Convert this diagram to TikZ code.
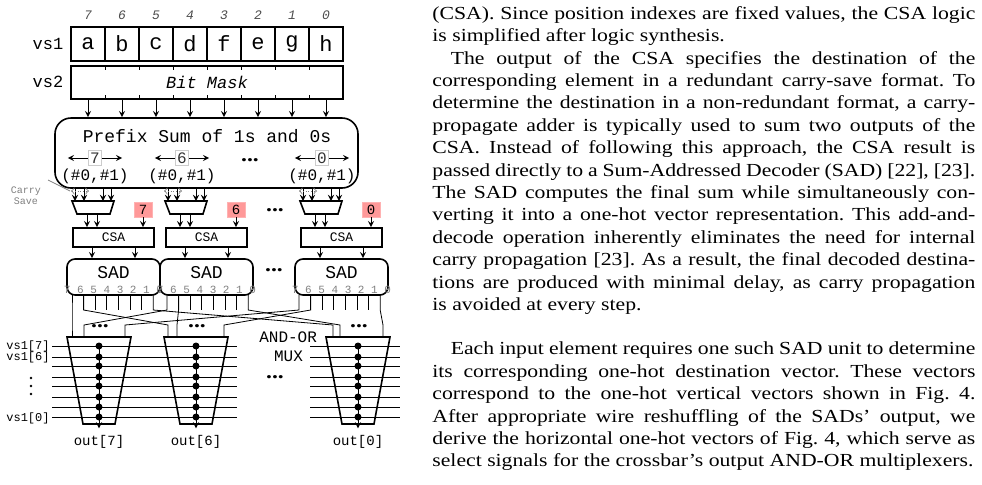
\documentclass[tikz,border=0pt]{standalone}
\usepackage{fontspec}
\setmainfont{Liberation Serif}[FakeStretch=1.18]
\setmonofont{Liberation Mono}
\usetikzlibrary{calc, positioning}

\tikzset{
  cell/.style={draw, thick, minimum width=17pt, minimum height=17pt, inner sep=0pt, font=\ttfamily\fontsize{11}{11}\selectfont},
  idx/.style={font=\ttfamily\itshape\fontsize{6.5}{6.5}\selectfont},
  lbl/.style={font=\ttfamily\fontsize{8.5}{8.5}\selectfont},
  small/.style={font=\ttfamily\fontsize{6}{6}\selectfont},
  posbox/.style={draw=gray!40, inner sep=1pt, font=\ttfamily\fontsize{8}{8}\selectfont, text=black!80},
  csabox/.style={draw, thick, minimum width=40.5pt, minimum height=9.5pt, inner sep=0pt, font=\ttfamily\fontsize{6.5}{6.5}\selectfont},
  redbox/.style={draw=red!30, fill=red!40, minimum width=9pt, minimum height=7.5pt, inner sep=0pt, font=\ttfamily\fontsize{7}{7}\selectfont},
  sadbox/.style={draw, thick, rounded corners=4pt, minimum width=46.5pt, minimum height=18pt, inner sep=0pt},
  seldot/.style={circle, fill, inner sep=0pt, minimum size=3.5pt},
  >=stealth
}

\begin{document}
\begin{tikzpicture}[x=0.5pt, y=-0.5pt]
        \useasboundingbox (0,0) rectangle (982,484);

        % vs1
        \node[lbl] (vsone) at (48,44) {vs1};
        \foreach \c [count=\i from 0] in {a,b,c,d,f,e,g,h} {
            \pgfmathtruncatemacro\n{7-\i}
            \node[cell] (v\i) at (88+34*\i,44) {\c};
            \node[idx, text=black!70] at (88+34*\i,15) {\n};
        }

        % vs2
        \node[lbl] (vstwo) at (48,82) {vs2};
        \node[draw, thick, minimum width=136pt, minimum height=16.5pt, inner sep=0pt, font=\ttfamily\itshape\fontsize{8.5}{8.5}\selectfont] (mask) at (207,82.5) {Bit Mask};
        \foreach \i in {1,...,7} {
            \draw (71+34*\i,66) -- ++(0,4);
            \draw (71+34*\i,99) -- ++(0,-4);
        }

        % prefix sum
        \node[draw, thick, rounded corners=8pt, minimum width=151.5pt, minimum height=35pt] (prefix) at (206.5,153) {};
        \node[font=\ttfamily\fontsize{9}{9}\selectfont] (title) at (207,136) {Prefix Sum of 1s and 0s};
        \foreach \i in {0,...,7}
            \draw[->] (mask.south -| v\i) -- (prefix.north -| v\i);

        \foreach \cx/\n in {95/7, 182/6, 322/0} {
            \node[posbox] (n\n) at (\cx,158) {\n};
            \draw[->] (n\n.west) -- ++(-20,0);
            \draw[->] (n\n.east) -- ++(20,0);
            \node[font=\ttfamily\fontsize{8}{8}\selectfont] (t\n) at (\cx,176) {(\#0,\#1)};
        }
        \node (pdots) at (250,160) {\textbf{...}};

        % carry save
        \node[font=\ttfamily\fontsize{5}{5.5}\selectfont, text=gray, align=center] (cs) at (26,196) {Carry\\Save};
        \coordinate (csend) at (70,191);
        \draw[gray] (cs.north east) -- (csend);

        % adders, csa, sad
        \foreach \t/\n/\k in {93/7/1, 186/6/2, 321/0/3} {
            \coordinate (tr\k-n) at (\t,201);
            \coordinate (tr\k-s) at (\t,214);
            \draw[thick] (\t-21,201) -- (\t+21,201) -- (\t+17,214) -- (\t-16,214) -- cycle;
            \node[redbox] (r\k) at (\t+50,209.5) {\n};
            \node[csabox] (csa\k) at (\t+20.5,237.5) {CSA};
            \node[sadbox] (sad\k) at (\t+20.5,277) {};
            \node[font=\ttfamily\fontsize{9}{9}\selectfont] at (\t+20.5,273) {SAD};
            \node[font=\ttfamily\fontsize{5.5}{5.5}\selectfont, text=gray] at (\t+20.5,290) {7 6 5 4 3 2 1 0};
            \foreach \dx in {-18,-9,10,18} {
                \coordinate (a) at ($(tr\k-n)+(\dx,0)$);
                \draw[->] (prefix.south -| a) -- (a);
            }
            \draw[gray, densely dotted, <->, >=to] ($(tr\k-n)+(-22,-10)$) -- ($(tr\k-n)+(-4,-10)$);
            \foreach \dx in {-6,4} {
                \coordinate (b) at ($(tr\k-s)+(\dx,0)$);
                \draw[->] (b) -- (csa\k.north -| b);
            }
            \draw[->] (r\k.south) -- (csa\k.north -| r\k);
            \foreach \dx in {-21.5,21.5} {
                \coordinate (c) at ($(csa\k.south)+(\dx,0)$);
                \draw[->] (c) -- (sad\k.north -| c);
            }
        }
        \node (adots) at (275,210) {\textbf{...}};
        \node (sdots) at (274,270) {\textbf{...}};

        % pins of the sads
        \foreach \left/\k in {67/1, 162/2, 294/3}
            \foreach \j in {0,...,7}
                \coordinate (p\k\j) at (\left+5+11.6*\j,295);
        \foreach \k in {1,2,3}
            \foreach \j in {2,...,6}
                \draw (p\k\j) -- ++(0,15);

        % muxes
        \foreach \mx/\n/\m in {99/7/1, 196/6/2, 358/0/3} {
            \coordinate (mux\m-n) at (\mx,337);
            \coordinate (mux\m-s) at (\mx,424);
            \draw[thick] (\mx-32,337) -- (\mx+32,337) -- (\mx+16,424) -- (\mx-16,424) -- cycle;
            \node[font=\ttfamily\fontsize{7}{7}\selectfont] (out\m) at (\mx,442) {out[\n]};
            \draw ($(mux\m-n)+(0,8)$) -- (mux\m-s);
            \draw[->] (mux\m-s) -- (out\m.north);
            \node (mdots\m) at (\mx+1,326) {\textbf{...}};
        }

        % wiring
        \foreach \k/\j/\m/\tx in {1/0/1/72, 2/0/1/84, 3/0/1/125,
                                  1/1/2/168, 2/1/2/177, 3/1/2/224,
                                  1/7/3/333, 2/7/3/340, 3/7/3/383} {
            \coordinate (q) at (\tx,337);
            \draw (p\k\j) -- ++(0,15) -- ($(q)+(0,-12)$) -- (q);
        }

        % select lines
        \foreach \y in {346,357,366,377,386,397,407,417} {
            \coordinate (l) at (52,\y);
            \coordinate (r) at (237,\y);
            \draw (l) -- (r);
            \coordinate (l) at (310,\y);
            \coordinate (r) at (400,\y);
            \draw (l) -- (r);
            \foreach \m in {1,2,3}
                \node[seldot] at (mux\m-n |- l) {};
        }

        % labels
        \node[small, anchor=east, inner sep=1pt] (l7) at (52,346) {vs1[7]};
        \node[small, anchor=east, inner sep=1pt] (l6) at (52,357) {vs1[6]};
        \node[small, anchor=east, inner sep=1pt] (l0) at (52,418) {vs1[0]};
        \foreach \y in {378,386,394}
            \fill (31,\y) circle (1.4);
        \node[font=\ttfamily\fontsize{8}{8}\selectfont, anchor=east] (andor) at (324,337) {AND-OR};
        \node[font=\ttfamily\fontsize{8}{8}\selectfont, anchor=east] (muxl) at (310,356) {MUX};
        \node (xdots) at (275,377) {\textbf{...}};

        % text column
        \node[anchor=north west, inner sep=0pt, text width=271.5pt, align=justify, font=\fontsize{9.2}{11.2}\selectfont] (col) at (432,6) {\frenchspacing%
        (CSA). Since position indexes are fixed values, the CSA logic\linebreak
        is simplified after logic synthesis.\par
        \hspace*{1em}The output of the CSA specifies the destination of the\linebreak
        corresponding element in a redundant carry-save format. To\linebreak
        determine the destination in a non-redundant format, a carry-\linebreak
        propagate adder is typically used to sum two outputs of the\linebreak
        CSA. Instead of following this approach, the CSA result is\linebreak
        passed directly to a Sum-Addressed Decoder (SAD) [22], [23].\linebreak
        The SAD computes the final sum while simultaneously con-\linebreak
        verting it into a one-hot vector representation. This add-and-\linebreak
        decode operation inherently eliminates the need for internal\linebreak
        carry propagation [23]. As a result, the final decoded destina-\linebreak
        tions are produced with minimal delay, as carry propagation\linebreak
        is avoided at every step.\par\vspace{11pt}
        \hspace*{1em}Each input element requires one such SAD unit to determine\linebreak
        its corresponding one-hot destination vector. These vectors\linebreak
        correspond to the one-hot vertical vectors shown in Fig. 4.\linebreak
        After appropriate wire reshuffling of the SADs' output, we\linebreak
        derive the horizontal one-hot vectors of Fig. 4, which serve as\linebreak
        select signals for the crossbar's output AND-OR multiplexers.};

    \end{tikzpicture}
\end{document}
